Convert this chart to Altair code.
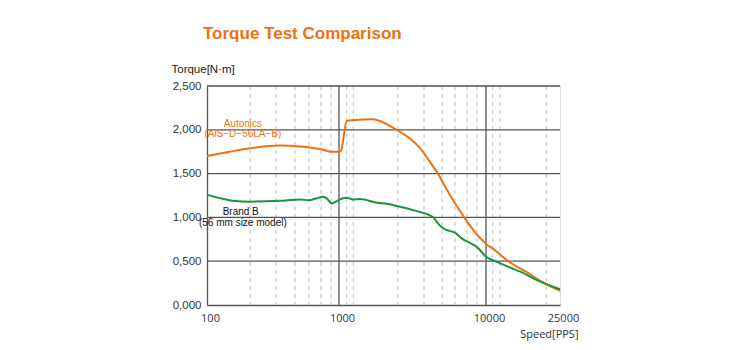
import altair as alt
import pandas as pd

# Autonics (AiS-D-56LA-B) torque curve
aut_speed = [100, 149, 212, 357, 507, 718, 811, 870, 1000, 1032, 1128, 1245, 1700, 1900, 2150,
             2520, 3040, 3560, 4050, 4690, 5400, 6150, 7120, 8200, 10000, 11090, 13160,
             16700, 20400, 25000]
aut_torque = [1.70, 1.75, 1.79, 1.82, 1.81, 1.78, 1.76, 1.75, 1.75, 1.76, 2.10, 2.11, 2.12, 2.10, 2.055,
              1.99, 1.90, 1.79, 1.66, 1.504, 1.32, 1.161, 1.00, 0.856, 0.70, 0.63, 0.50,
              0.369, 0.255, 0.16]

# Brand B (56 mm size model) torque curve
brb_speed = [100, 125, 157, 212, 357, 507, 593, 669, 756, 811, 880, 949, 1000, 1128, 1245, 1390,
             1810, 2150, 2600, 3290, 4380, 4620, 5000, 5400, 6150, 6840, 8870, 10000, 11180,
             15300, 19600, 25000]
brb_torque = [1.26, 1.22, 1.19, 1.18, 1.19, 1.205, 1.195, 1.215, 1.235, 1.215, 1.16, 1.18, 1.20, 1.225,
              1.205, 1.21, 1.168, 1.153, 1.122, 1.077, 1.00, 0.951, 0.887, 0.856, 0.825, 0.761,
              0.647, 0.55, 0.50, 0.38, 0.266, 0.18]

x_ticks = [100, 1000, 10000, 25000]
minor_grid = [212, 333, 464, 593, 731, 870, 1128, 1250, 2520, 3790, 5020, 6150, 7430, 8680,
              10870, 11900, 21100]
major_x_grid = [1000, 10000]
y_grid = [0.5, 1.0, 1.5, 2.0, 2.5]

ann_text = ["Autonics", "(AiS\u2212D\u221256LA\u2212B)", "Brand B", "(56 mm size model)"]
ann_speed = [187, 187, 180, 187]
ann_torque = [2.066, 1.952, 1.065, 0.933]
ann_group = ["Autonics", "Autonics", "Brand B", "Brand B"]

ORANGE = "#F0700F"
GREEN = "#15983B"

df = pd.concat([
    pd.DataFrame({"speed": aut_speed, "torque": aut_torque, "series": "Autonics"}),
    pd.DataFrame({"speed": brb_speed, "torque": brb_torque, "series": "Brand B"}),
])
ann = pd.DataFrame({"text": ann_text, "speed": ann_speed, "torque": ann_torque, "group": ann_group})

xscale = alt.Scale(type="log", domain=[100, 1000, 10000, 25000], range=[0, 132, 279, 353], nice=False)
yscale = alt.Scale(domain=[0, 2.5], nice=False, zero=True)

ylabel = "replace(format(datum.value, '.3f'), '.', ',')"

minor = alt.Chart(pd.DataFrame({"s": minor_grid})).mark_rule(
    color="#BDBDBD", strokeDash=[4, 4], strokeWidth=1
).encode(x=alt.X("s:Q", scale=xscale))

major_x = alt.Chart(pd.DataFrame({"s": major_x_grid})).mark_rule(
    color="#555555", strokeWidth=1.3
).encode(x=alt.X("s:Q", scale=xscale))

major_y = alt.Chart(pd.DataFrame({"t": y_grid})).mark_rule(
    color="#555555", strokeWidth=1.3
).encode(y=alt.Y("t:Q", scale=yscale))

lines = alt.Chart(df).mark_line(strokeWidth=2, interpolate="monotone").encode(
    x=alt.X("speed:Q", scale=xscale,
            axis=alt.Axis(values=x_ticks, format="d", grid=False, ticks=False, tickSize=0,
                          domain=True, domainColor="#555555", domainWidth=1.3,
                          labelPadding=7, labelFont="Open Sans", labelFontSize=11,
                          labelColor="#333333", labelOffset=3, labelFlush=False,
                          title="Speed[PPS]", titleFont="Open Sans", titleFontSize=11,
                          titleFontWeight="normal", titleColor="#333333", titleAnchor="end",
                          titleAlign="right", titleX=371, titleY=32, titleBaseline="alphabetic")),
    y=alt.Y("torque:Q", scale=yscale,
            axis=alt.Axis(values=[0, 0.5, 1.0, 1.5, 2.0, 2.5], labelExpr=ylabel, grid=False,
                          ticks=False, tickSize=0, domain=True, domainColor="#555555",
                          domainWidth=1.3, labelPadding=6,
                          labelFont="Liberation Sans", labelFontSize=11.5, labelColor="#333333",
                          title="Torque[N\u00b7m]", titleFont="Liberation Sans", titleFontSize=11.5,
                          titleFontWeight="normal", titleColor="#222222", titleAngle=0,
                          titleAlign="left", titleBaseline="middle", titleX=-36, titleY=-17)),
    color=alt.Color("series:N", scale=alt.Scale(domain=["Autonics", "Brand B"], range=[ORANGE, GREEN]),
                    legend=None),
)

labels = alt.Chart(ann).mark_text(font="Liberation Sans", fontSize=10, align="center",
                                  baseline="middle").encode(
    x=alt.X("speed:Q", scale=xscale),
    y=alt.Y("torque:Q", scale=yscale),
    text="text:N",
    color=alt.Color("group:N", scale=alt.Scale(domain=["Autonics", "Brand B"], range=[ORANGE, "#111111"]),
                    legend=None),
)

chart = alt.layer(minor, major_x, major_y, lines, labels).resolve_scale(color="independent").properties(
    width=353, height=219,
    autosize=alt.AutoSizeParams(type="none"),
    padding={"left": 207, "top": 86, "right": 176, "bottom": 45},
    title=alt.TitleParams("Torque Test Comparison", anchor="start", frame="group", dx=-4, offset=7,
                          font="Liberation Sans", fontSize=17, fontWeight="bold", color=ORANGE,
                          baseline="alphabetic"),
).configure_view(stroke="#555555", strokeWidth=1.3).configure(background="white")

chart.save("out.html", embed_options={"renderer": "svg", "actions": False})
